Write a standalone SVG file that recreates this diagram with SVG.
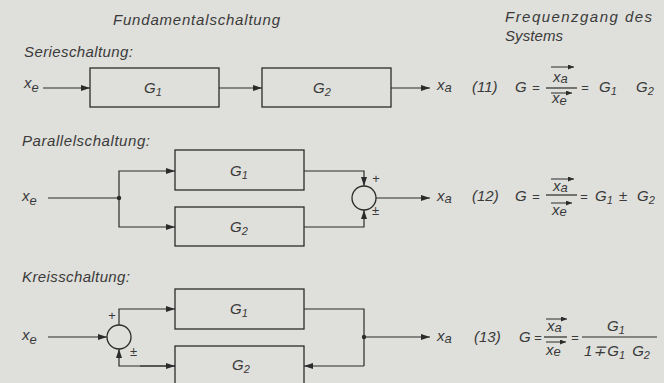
<svg xmlns="http://www.w3.org/2000/svg" width="664" height="383" viewBox="0 0 664 383">
<defs>
<marker id="ah" markerUnits="userSpaceOnUse" markerWidth="10" markerHeight="6" refX="9" refY="3" orient="auto"><path d="M0,0 L9,3 L0,6 z" fill="#2b2b2b"/></marker>
<marker id="vh" markerUnits="userSpaceOnUse" markerWidth="7" markerHeight="5" refX="6" refY="2.5" orient="auto"><path d="M0,0 L6,2.5 L0,5 z" fill="#2b2b2b"/></marker>
<style>
.t{font-family:"Liberation Sans",Arial,sans-serif;font-style:italic;fill:#3a3a3a;font-size:15px}
.s{font-size:11px}
.sm{font-size:13px}
.box{fill:none;stroke:#2b2b2b;stroke-width:1.3}
.ln{fill:none;stroke:#2b2b2b;stroke-width:1.2}
.ar{marker-end:url(#ah)}
.va{fill:none;stroke:#2b2b2b;stroke-width:1;marker-end:url(#vh)}
.dot{fill:#2b2b2b}
</style>
</defs>
<rect width="664" height="383" fill="#dfdfdb"/>

<g id="headers">
<text class="t" x="113" y="25" textLength="167">Fundamentalschaltung</text>
<text class="t" x="505" y="22" textLength="147">Frequenzgang des</text>
<text class="t" x="505" y="41" textLength="58">Systems</text>
<text class="t" x="24" y="57" textLength="109">Serieschaltung:</text>
<text class="t" x="22" y="146" textLength="128">Parallelschaltung:</text>
<text class="t" x="22" y="282" textLength="108">Kreisschaltung:</text>
</g>

<!-- Serieschaltung -->
<g id="s_xe"><text class="t" x="24" y="88" font-size="16">x<tspan class="sm" dy="4">e</tspan></text></g>
<g id="s_G1"><rect class="box" x="90" y="68" width="129" height="39"/><text class="t" x="144" y="93">G<tspan class="s" dy="3">1</tspan></text></g>
<g id="s_G2"><rect class="box" x="262" y="68" width="129" height="39"/><text class="t" x="313" y="93">G<tspan class="s" dy="3">2</tspan></text></g>
<g id="s_xa"><text class="t" x="437" y="90" font-size="16">x<tspan class="sm" dy="2">a</tspan></text></g>
<g id="f11">
<text class="t" x="472" y="92">(11)</text>
<text class="t" x="515" y="92">G</text>
<text class="t sm" x="532" y="92">=</text>
<line class="ln" x1="546" y1="88" x2="577" y2="88"/>
<line class="va" x1="551" y1="67" x2="574" y2="67"/>
<text class="t" x="553" y="82" font-size="16">x<tspan class="sm" dy="1">a</tspan></text>
<line class="va" x1="551" y1="93" x2="572" y2="93"/>
<text class="t" x="552" y="103" font-size="16">x<tspan class="sm" dy="2">e</tspan></text>
<text class="t sm" x="581" y="92">=</text>
<text class="t" x="599" y="92">G<tspan class="s" dy="3">1</tspan></text>
<text class="t" x="636" y="92">G<tspan class="s" dy="3">2</tspan></text>
</g>

<!-- Parallelschaltung -->
<g id="p_xe"><text class="t" x="22" y="201" font-size="16">x<tspan class="sm" dy="4">e</tspan></text></g>
<g id="p_G1"><rect class="box" x="175" y="150" width="129" height="40"/><text class="t" x="230" y="176">G<tspan class="s" dy="3">1</tspan></text></g>
<g id="p_G2"><rect class="box" x="175" y="207" width="129" height="39"/><text class="t" x="230" y="232">G<tspan class="s" dy="3">2</tspan></text></g>
<g id="p_sum"><circle class="box" cx="364" cy="198" r="12"/><text class="t sm" x="372" y="183">+</text><text class="t sm" x="372" y="215">±</text></g>
<g id="p_xa"><text class="t" x="437" y="201" font-size="16">x<tspan class="sm" dy="2">a</tspan></text></g>
<g id="f12">
<text class="t" x="472" y="201">(12)</text>
<text class="t" x="515" y="201">G</text>
<text class="t sm" x="532" y="201">=</text>
<line class="ln" x1="546" y1="195" x2="577" y2="195"/>
<line class="va" x1="551" y1="179" x2="574" y2="179"/>
<text class="t" x="553" y="191" font-size="16">x<tspan class="sm" dy="1">a</tspan></text>
<line class="va" x1="551" y1="203" x2="572" y2="203"/>
<text class="t" x="552" y="215" font-size="16">x<tspan class="sm" dy="1">e</tspan></text>
<text class="t sm" x="580" y="201">=</text>
<text class="t" x="595" y="201">G<tspan class="s" dy="3">1</tspan></text>
<text class="t" x="619" y="201">±</text>
<text class="t" x="637" y="201">G<tspan class="s" dy="3">2</tspan></text>
</g>

<!-- Kreisschaltung -->
<g id="k_xe"><text class="t" x="22" y="340" font-size="16">x<tspan class="sm" dy="4">e</tspan></text></g>
<g id="k_sum"><circle class="box" cx="119" cy="337" r="12"/><text class="t sm" x="108" y="320">+</text><text class="t sm" x="130" y="356">±</text></g>
<g id="k_G1"><rect class="box" x="175" y="289" width="129" height="40"/><text class="t" x="230" y="314">G<tspan class="s" dy="3">1</tspan></text></g>
<g id="k_G2"><rect class="box" x="175" y="346" width="129" height="45"/><text class="t" x="232" y="370">G<tspan class="s" dy="3">2</tspan></text></g>
<g id="k_xa"><text class="t" x="437" y="341" font-size="16">x<tspan class="sm" dy="2">a</tspan></text></g>
<g id="f13">
<text class="t" x="474" y="342">(13)</text>
<text class="t" x="519" y="342">G</text>
<text class="t sm" x="534" y="342">=</text>
<line class="ln" x1="544" y1="337" x2="567" y2="337"/>
<line class="va" x1="546" y1="319" x2="567" y2="319"/>
<text class="t" x="547" y="331" font-size="16">x<tspan class="sm" dy="1">a</tspan></text>
<line class="va" x1="546" y1="342" x2="566" y2="342"/>
<text class="t" x="546" y="355" font-size="16">x<tspan class="sm" dy="1">e</tspan></text>
<text class="t sm" x="571" y="342">=</text>
<line class="ln" x1="582" y1="337" x2="657" y2="337"/>
<text class="t" x="607" y="331">G<tspan class="s" dy="3">1</tspan></text>
<text class="t" x="584" y="356">1<tspan dx="1">∓</tspan><tspan dx="1">G</tspan><tspan class="s" dy="3">1</tspan><tspan dx="7" dy="-3">G</tspan><tspan class="s" dy="3">2</tspan></text>
</g>

<g id="connectors">
<!-- serie -->
<line class="ln ar" x1="43" y1="88" x2="90" y2="88"/>
<line class="ln ar" x1="219" y1="88" x2="262" y2="88"/>
<line class="ln ar" x1="391" y1="88" x2="430" y2="88"/>
<!-- parallel -->
<line class="ln" x1="48" y1="198" x2="119" y2="198"/>
<circle class="dot" cx="119" cy="198" r="2.2"/>
<polyline class="ln ar" points="119,198 119,171 175,171"/>
<polyline class="ln ar" points="119,198 119,227 175,227"/>
<polyline class="ln ar" points="304,171 364,171 364,186"/>
<polyline class="ln ar" points="304,227 364,227 364,210"/>
<line class="ln ar" x1="376" y1="198" x2="430" y2="198"/>
<!-- kreis -->
<line class="ln ar" x1="48" y1="337" x2="107" y2="337"/>
<polyline class="ln ar" points="119,325 119,309 175,309"/>
<polyline class="ln ar" points="175,366 119,366 119,349"/>
<line class="ln ar" x1="140" y1="366" x2="175" y2="366"/>
<polyline class="ln" points="304,309 364,309 364,366"/>
<line class="ln ar" x1="364" y1="366" x2="304" y2="366"/>
<circle class="dot" cx="364" cy="337" r="2.2"/>
<line class="ln ar" x1="364" y1="337" x2="430" y2="337"/>
</g>
</svg>
